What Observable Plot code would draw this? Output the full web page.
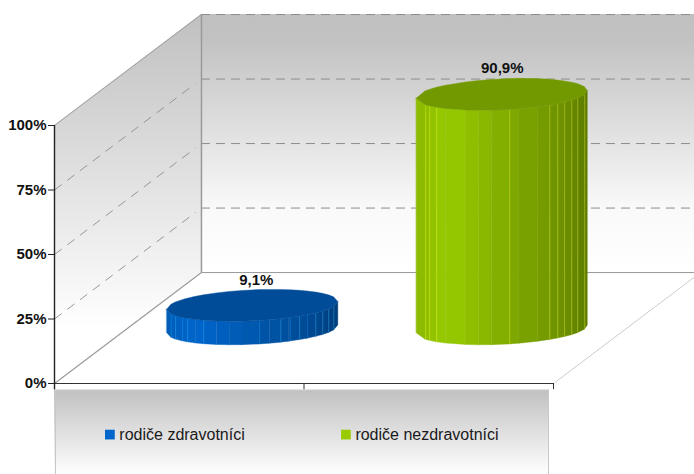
<!DOCTYPE html>
<html>
<head>
<meta charset="utf-8">
<script src="https://cdn.jsdelivr.net/npm/d3@7"></script>
<script src="https://cdn.jsdelivr.net/npm/@observablehq/plot@0.6"></script>
<style>
  html, body { margin: 0; padding: 0; background: #fff; }
  svg { display: block; }
</style>
</head>
<body>
<div id="chart"></div>
<script>
// Share of respondents by parents' occupation, as a 3D cylinder column chart.
const categories = ["rodiče zdravotníci", "rodiče nezdravotníci"];
const values = [9.1, 90.9];
const valueLabels = ["9,1%", "90,9%"];
const axisTicks = [0, 25, 50, 75, 100];
const baseColors = ["#0066cc", "#99cc00"];
const topColors = ["#004c99", "#739900"];

// Light seams on each cylinder, as fractions of its radius.
const seams = [
  [-0.95, -0.9, -0.82, -0.76, -0.57, 0.08, 0.33, 0.44, 0.55, 0.64, 0.74, 0.82, 0.89, 0.95],
  [-0.895, -0.848, -0.766, 0.088, 0.556, 0.65, 0.73, 0.813, 0.883, 0.965]
];
const smoothEdges = [-1, -0.66, -0.42, -0.27, -0.12, 0.2, 0.42, 1];

// Oblique projection: one unit of depth moves right and up in data units.
const depthX = 0.589;
const depthY = 43;
const along = (x, depth) => x + depth * depthX;
const up = (v, depth) => v + depth * depthY;

// Cylinder footprint in data units.
const radiusX = 0.343;
const radiusY = 6;
const tilt = 1.5;
const floorLevel = 21;
const centre = i => along(i + 0.5, 0.5);
const half = f => radiusY * Math.sqrt(Math.max(0, 1 - f * f));
const rim = (f, level, sign) => level + tilt * f + sign * half(f);

// Side shading, darkest at the right-hand edge.
const shadeAt = d3.scaleLinear()
  .domain([-1, -0.65, -0.2, 0.1, 0.5, 0.8, 1])
  .range([0.9, 1, 0.9, 0.83, 0.76, 0.68, 0.6]);
const shaded = (color, f) => {
  const c = d3.rgb(color), k = shadeAt(f);
  return d3.rgb(c.r * k, c.g * k, c.b * k).formatHex();
};

const facets = [];
const caps = [];
const seamLines = [];
values.forEach((v, i) => {
  const edges = [...new Set([...smoothEdges, ...seams[i]])].sort(d3.ascending);
  d3.pairs(edges).forEach(([a, b], k) => {
    const fill = shaded(baseColors[i], (a + b) / 2);
    [a, b].forEach(f => facets.push({
      facet: `${i}-${k}`, fill,
      x: centre(i) + radiusX * f,
      y1: rim(f, floorLevel, -1),
      y2: rim(f, floorLevel + v, -1)
    }));
  });
  edges.forEach(f => caps.push({
    series: i, fill: topColors[i],
    x: centre(i) + radiusX * f,
    y1: rim(f, floorLevel + v, -1),
    y2: rim(f, floorLevel + v, 1)
  }));
  seams[i].forEach(f => seamLines.push({
    x: centre(i) + radiusX * f,
    y1: rim(f, floorLevel, -1),
    y2: rim(f, floorLevel + v, -1),
    stroke: d3.rgb(baseColors[i]).brighter(1.4).formatHex()
  }));
});

// Wall gradients, referenced from the area marks below.
function gradients() {
  const defs = d3.create("svg:defs");
  const add = (id, stops) => {
    const g = defs.append("linearGradient").attr("id", id)
      .attr("x1", 0).attr("x2", 0).attr("y1", 0).attr("y2", 1);
    stops.forEach(([o, c]) => g.append("stop").attr("offset", o).attr("stop-color", c));
  };
  add("backWall", [[0, "#c0c0c0"], [0.1, "#c2c2c2"], [0.5, "#e4e4e4"], [0.75, "#f9f9f9"], [1, "#ffffff"]]);
  add("sideWall", [[0, "#c0c0c0"], [0.85, "#ffffff"], [1, "#ffffff"]]);
  add("legendPanel", [[0, "#c0c0c0"], [1, "#ffffff"]]);
  return defs.node();
}

const legendTop = -2.4, legendBottom = -35.6;
const legendY = -19.8;
const legendX = [0.26, 1.206];
const swatchGap = 0.038;
const labelNudgeX = [0.014, 0];
const labelNudgeY = [-0.4, 0.2];

const plot = Plot.plot({
  width: 694,
  height: 474,
  marginLeft: 54,
  marginRight: 141,
  marginTop: 125,
  marginBottom: 91,
  x: { domain: [0, 2], axis: null },
  y: { domain: [0, 100], axis: null },
  style: { fontFamily: "'Liberation Sans', Arial, sans-serif", background: "#fff", overflow: "hidden" },
  marks: [
    gradients,

    // Walls
    Plot.areaY([0, 2], {
      x: d => along(d, 1), y1: up(0, 1), y2: up(100, 1), fill: "url(#backWall)"
    }),
    Plot.areaY([0, 1], {
      x: d => along(0, d), y1: d => up(0, d), y2: d => up(100, d), fill: "url(#sideWall)"
    }),

    // Gridlines across both walls
    Plot.ruleY(axisTicks.slice(1), {
      x1: along(0, 1), x2: along(2, 1), y: d => up(d, 1),
      stroke: "#8c8c8c", strokeWidth: 1, strokeDasharray: "9 6"
    }),
    Plot.link(axisTicks.slice(1, -1), {
      x1: along(0, 0), y1: d => d, x2: along(0, 0.96), y2: d => up(d, 0.96),
      stroke: "#8c8c8c", strokeWidth: 0.9, strokeDasharray: "9 7"
    }),

    // Wall and floor edges
    Plot.ruleX([along(0, 1)], { y1: up(0, 1), y2: up(100, 1), stroke: "#999", strokeWidth: 1.5 }),
    Plot.link([0], {
      x1: along(0, 0), y1: 100, x2: along(0, 1), y2: up(100, 1), stroke: "#a0a0a0"
    }),
    Plot.link([0], {
      x1: along(0, 0), y1: 0, x2: along(0, 1), y2: up(0, 1), stroke: "#9a9a9a", strokeWidth: 1.2
    }),
    Plot.ruleY([up(0, 1)], { x1: along(0, 1), x2: along(2, 1), stroke: "#999", strokeWidth: 1 }),
    Plot.link([0], {
      x1: along(2, 0), y1: 0, x2: along(2, 1), y2: up(0, 1), stroke: "#cccccc"
    }),

    // Cylinders
    Plot.areaY(facets, {
      x: "x", y1: "y1", y2: "y2", z: "facet",
      fill: { value: "fill", scale: null },
      stroke: { value: "fill", scale: null }, strokeWidth: 0.4
    }),
    Plot.ruleX(seamLines, {
      x: "x", y1: "y1", y2: "y2",
      stroke: { value: "stroke", scale: null }, strokeWidth: 0.8, strokeOpacity: 0.4
    }),
    Plot.areaY(caps, {
      x: "x", y1: "y1", y2: "y2", z: "series",
      fill: { value: "fill", scale: null },
      stroke: { value: "fill", scale: null }, strokeWidth: 0.4
    }),

    // Value labels
    Plot.text(values, {
      x: (d, i) => centre(i) + labelNudgeX[i],
      y: (d, i) => floorLevel + d + radiusY + labelNudgeY[i],
      text: (d, i) => valueLabels[i],
      dy: -11,
      fontWeight: "bold", fontSize: 15, fill: "#111", stroke: "none"
    }),

    // Legend panel
    Plot.areaY([0, 1.98], {
      x: d => d, y1: legendTop, y2: legendBottom, fill: "url(#legendPanel)"
    }),
    Plot.ruleX([0.004, 1.98], { y1: legendTop, y2: legendBottom, stroke: "#c8c8c8", strokeWidth: 1 }),
    Plot.ruleY([legendTop], { x1: 0, x2: 1.98, stroke: "#e6e6e6", strokeWidth: 1 }),
    Plot.dot(categories, {
      x: (d, i) => legendX[i] - swatchGap, y: legendY, r: 5.5, symbol: "square",
      fill: (d, i) => baseColors[i], stroke: "none"
    }),
    Plot.text(categories, {
      x: (d, i) => legendX[i], y: legendY, text: d => d,
      textAnchor: "start", fontSize: 16, fill: "#1a1a1a", stroke: "none"
    }),

    // Front axis frame
    Plot.ruleY([0], { x1: 0, x2: 2, stroke: "#333", strokeWidth: 1.2 }),
    Plot.ruleX([0, 1, 2], { y1: 0, y2: -2.4, stroke: "#333", strokeWidth: 1 }),
    Plot.ruleX([0], { y1: -2.4, y2: 100, stroke: "#222", strokeWidth: 1.4 }),
    Plot.axisY({
      ticks: axisTicks,
      tickFormat: d => `${d}%`,
      tickSize: 6,
      tickPadding: 2,
      stroke: "#222",
      fontSize: 15,
      fontWeight: "bold",
      fill: "#111",
      label: null
    })
  ]
});

document.getElementById("chart").appendChild(plot);
</script>
</body>
</html>
